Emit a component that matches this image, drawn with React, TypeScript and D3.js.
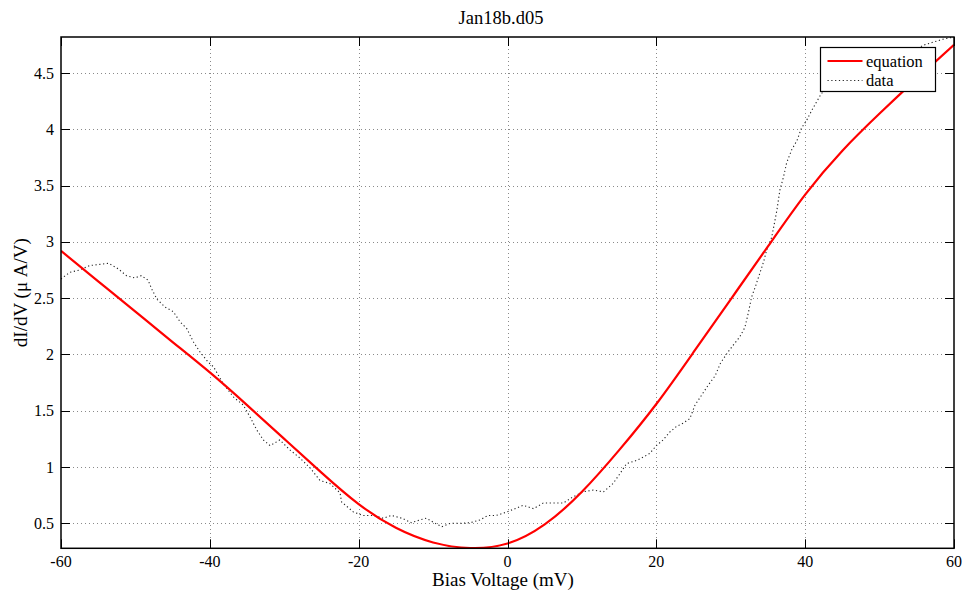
import React from "react";
import * as d3 from "d3";

const titleText = "Jan18b.d05";
const xLabelText = "Bias Voltage (mV)";
const yLabelText = "dI/dV (\u03bc A/V)";
const seriesNames = ["equation", "data"];

const xTicks = [-60, -40, -20, 0, 20, 40, 60];
const yTicks = [0.5, 1, 1.5, 2, 2.5, 3, 3.5, 4, 4.5];

// equation curve
const eqV = [-60, -55, -50, -45, -40, -35, -30, -25, -20, -15, -10, -5, 0, 5, 10, 15, 20, 25, 30, 35, 40, 45, 50, 55, 60];
const eqG = [2.92, 2.65, 2.38, 2.11, 1.84, 1.55, 1.25, 0.95, 0.67, 0.46, 0.33, 0.28, 0.32, 0.49, 0.78, 1.15, 1.56, 2.02, 2.49, 2.96, 3.42, 3.81, 4.14, 4.45, 4.75];

// measured data
const dataV = [
  -60, -59.7, -58.8, -57.5, -56.1, -54.8, -53.6, -52.3, -51.2, -50.1, -49.2, -48.3, -47.8, -47.1, -46.0, -44.9, -44.0, -43.1, -42.2, -41.3,
  -40.2, -39.5, -38.2, -36.8, -35.5, -34.6, -33.7, -32.8, -31.9, -30.6, -29.2, -27.9, -26.5, -25.2, -23.9, -22.5, -22.3, -20.7, -19.4, -18.0,
  -16.7, -15.6, -14.2, -12.9, -11.8, -10.9, -9.7, -8.8, -7.7, -6.4, -5.0, -3.7, -2.6, -1.5, -0.1, 1.0, 2.1, 3.5, 4.8, 6.2,
  7.5, 8.8, 10.2, 11.5, 12.9, 14.2, 15.1, 16.0, 17.4, 18.0, 19.1, 20.0, 20.9, 21.8, 22.7, 23.6, 24.5, 25.2, 26.1, 27.0,
  27.9, 28.6, 29.5, 30.3, 31.2, 31.9, 32.4, 32.8, 33.3, 33.9, 34.4, 34.8, 35.5, 36.2, 36.6, 37.1, 37.5, 38.2, 38.9, 39.5,
  40.2, 40.9, 41.5, 42.2, 43.0, 44.5, 46.0, 48.0, 50.0, 52.0, 54.0, 56.0, 58.5, 60.0,
];
const dataG = [
  2.67, 2.686, 2.73, 2.75, 2.79, 2.8, 2.81, 2.76, 2.7, 2.68, 2.7, 2.66, 2.58, 2.49, 2.42, 2.38, 2.29, 2.23, 2.11, 2.02,
  1.93, 1.89, 1.74, 1.62, 1.55, 1.445, 1.33, 1.24, 1.19, 1.24, 1.15, 1.08, 0.99, 0.88, 0.855, 0.77, 0.69, 0.6, 0.57, 0.57,
  0.545, 0.57, 0.545, 0.505, 0.53, 0.545, 0.5, 0.47, 0.5, 0.5, 0.505, 0.53, 0.57, 0.57, 0.6, 0.63, 0.66, 0.63, 0.68, 0.68,
  0.68, 0.735, 0.78, 0.795, 0.78, 0.855, 0.94, 1.03, 1.06, 1.08, 1.12, 1.19, 1.24, 1.31, 1.36, 1.39, 1.43, 1.55, 1.64, 1.73,
  1.81, 1.92, 2.01, 2.08, 2.155, 2.24, 2.38, 2.51, 2.6, 2.72, 2.82, 2.92, 3.04, 3.28, 3.46, 3.58, 3.7, 3.82, 3.9, 4.01,
  4.08, 4.17, 4.24, 4.32, 4.36, 4.42, 4.47, 4.52, 4.57, 4.62, 4.68, 4.75, 4.8, 4.82,
];

const W = 966;
const H = 599;
const L = 61, R = 954, T = 37, B = 548.3;
const FONT = "Liberation Serif, Times New Roman, Times, DejaVu Serif, serif";

export default function App() {
  const x = d3.scaleLinear().domain([-60, 60]).range([L, R]);
  const y = d3.scaleLinear().domain([0.278, 4.82]).range([B, T]);

  const eqLine = d3
    .line<number>()
    .x((_, i) => x(eqV[i]))
    .y((d) => y(d))
    .curve(d3.curveNatural);
  const dataLine = d3
    .line<number>()
    .x((_, i) => x(dataV[i]))
    .y((d) => y(d));

  const tickLen = 9;
  const legX = 820.5, legY = 47.5, legW = 115, legH = 44;
  const txt = { fontFamily: FONT } as React.CSSProperties;

  return (
    <svg width={W} height={H} style={{ position: "absolute", left: 0, top: 0, background: "#fff", fontFamily: FONT }}>
      <defs>
        <clipPath id="plotClip">
          <rect x={L} y={T} width={R - L} height={B - T} />
        </clipPath>
      </defs>
      <rect x={0} y={0} width={W} height={H} fill="#fff" />
      {/* grid */}
      <g stroke="#8a8a8a" strokeWidth={1} strokeDasharray="1,3">
        {xTicks.slice(1, -1).map((t) => (
          <line key={"gx" + t} x1={Math.round(x(t)) + 0.5} x2={Math.round(x(t)) + 0.5} y1={T} y2={B} />
        ))}
        {yTicks.map((t) => (
          <line key={"gy" + t} x1={L} x2={R} y1={Math.round(y(t)) + 0.5} y2={Math.round(y(t)) + 0.5} />
        ))}
      </g>
      {/* curves */}
      <g clipPath="url(#plotClip)">
        <path d={dataLine(dataG) || ""} fill="none" stroke="#222" strokeWidth={1.1} strokeDasharray="1.2,2.6" />
        <path d={eqLine(eqG) || ""} fill="none" stroke="#ff0000" strokeWidth={2.2} />
      </g>
      {/* ticks */}
      <g stroke="#000" strokeWidth={1}>
        {xTicks.map((t) => (
          <g key={"tx" + t}>
            <line x1={Math.round(x(t)) + 0.5} x2={Math.round(x(t)) + 0.5} y1={B} y2={B - tickLen} />
            <line x1={Math.round(x(t)) + 0.5} x2={Math.round(x(t)) + 0.5} y1={T} y2={T + tickLen} />
          </g>
        ))}
        {yTicks.map((t) => (
          <g key={"ty" + t}>
            <line x1={L} x2={L + tickLen} y1={Math.round(y(t)) + 0.5} y2={Math.round(y(t)) + 0.5} />
            <line x1={R} x2={R - tickLen} y1={Math.round(y(t)) + 0.5} y2={Math.round(y(t)) + 0.5} />
          </g>
        ))}
      </g>
      {/* box */}
      <rect x={L} y={T} width={R - L} height={B - T} fill="none" stroke="#000" strokeWidth={1.5} />
      {/* tick labels */}
      <g fontSize={16} fill="#000">
        {xTicks.map((t) => (
          <text key={"lx" + t} x={x(t)} y={567} textAnchor="middle" style={txt}>
            {String(t)}
          </text>
        ))}
        {yTicks.map((t) => (
          <text key={"ly" + t} x={54} y={y(t) + 5.5} textAnchor="end" style={txt}>
            {String(t)}
          </text>
        ))}
      </g>
      {/* title and labels */}
      <text x={501} y={24} textAnchor="middle" fontSize={18.5} style={txt}>
        {titleText}
      </text>
      <text x={503} y={586} textAnchor="middle" fontSize={19} style={txt}>
        {xLabelText}
      </text>
      <text transform={`translate(27,${(T + B) / 2}) rotate(-90)`} textAnchor="middle" fontSize={19} style={txt}>
        {yLabelText}
      </text>
      {/* legend */}
      <g>
        <rect x={legX} y={legY} width={legW} height={legH} fill="#fff" stroke="#000" strokeWidth={1.2} />
        <line x1={827.5} x2={862.5} y1={61} y2={61} stroke="#ff0000" strokeWidth={2.2} />
        <line x1={827.5} x2={862.5} y1={80.5} y2={80.5} stroke="#222" strokeWidth={1.1} strokeDasharray="1.2,2.6" />
        <text x={866} y={66.5} fontSize={16.5} style={txt}>
          {seriesNames[0]}
        </text>
        <text x={866} y={86} fontSize={16.5} style={txt}>
          {seriesNames[1]}
        </text>
      </g>
    </svg>
  );
}
